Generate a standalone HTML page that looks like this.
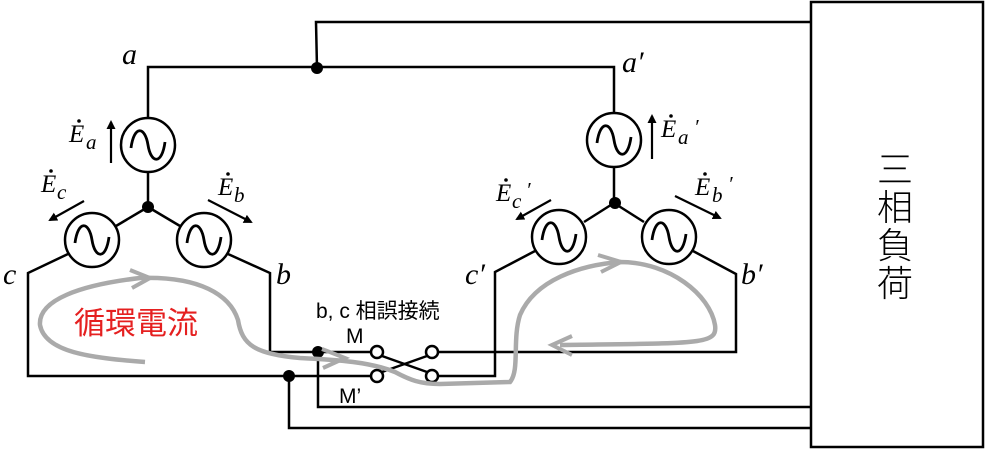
<!DOCTYPE html>
<html><head><meta charset="utf-8"><style>body{margin:0;background:#fff}svg{display:block}</style></head><body>
<svg width="986" height="451" viewBox="0 0 986 451" xmlns="http://www.w3.org/2000/svg" font-family="'Liberation Serif','DejaVu Serif',serif">
<defs>
<marker id="ah" markerWidth="9" markerHeight="9" refX="7" refY="4.5" orient="auto" markerUnits="userSpaceOnUse"><path d="M0,0 L9,4.5 L0,9 z" fill="#000"/></marker>
</defs>
<g fill="none" stroke="#000" stroke-width="2.5">
<rect x="811" y="2" width="172" height="445"/>
<polyline points="148,118 148,67 614,67 614,113"/>
<polyline points="317,68 316,22 811,22"/>
<circle cx="148" cy="145" r="27"/>
<line x1="148" y1="172" x2="148" y2="207"/>
<line x1="148" y1="207" x2="116" y2="226"/>
<line x1="148" y1="207" x2="180" y2="226"/>
<circle cx="92" cy="240" r="27"/>
<circle cx="204" cy="240" r="27"/>
<polyline points="68,254 28,273 28,376 372,376"/>
<polyline points="228,254 270,273 270,352 372,352"/>
<circle cx="614" cy="140" r="27"/>
<line x1="614" y1="167" x2="614" y2="203"/>
<line x1="614" y1="203" x2="584" y2="222"/>
<line x1="614" y1="203" x2="644" y2="222"/>
<circle cx="559" cy="237" r="27"/>
<circle cx="669" cy="237" r="27"/>
<polyline points="535,251 495,272 495,376 438,376"/>
<polyline points="693,251 736,274 736,352 438,352"/>
<polyline points="318,352 318,407 811,407"/>
<polyline points="289,376 289,428 811,428"/>
<line x1="382" y1="356" x2="427" y2="372"/>
<line x1="382" y1="372" x2="427" y2="356"/>
</g>
<g fill="#fff" stroke="#000" stroke-width="2.5">
<circle cx="377" cy="352" r="6"/><circle cx="432" cy="352" r="6"/>
<circle cx="377" cy="376" r="6"/><circle cx="432" cy="376" r="6"/>
</g>
<g fill="#000">
<circle cx="317" cy="68" r="6"/><circle cx="148" cy="207" r="6"/><circle cx="615" cy="203" r="6"/>
<circle cx="318" cy="352" r="6"/><circle cx="289" cy="376" r="6"/>
</g>
<g fill="none" stroke="#000" stroke-width="2.8">
<path d="M131,148 C134,125 145,126 148,145 C151,164 162,165 165,142"/>
<path d="M75,243 C78,220 89,221 92,240 C95,259 106,260 109,237"/>
<path d="M187,243 C190,220 201,221 204,240 C207,259 218,260 221,237"/>
<path d="M597,143 C600,120 611,121 614,140 C617,159 628,160 631,137"/>
<path d="M542,240 C545,217 556,218 559,237 C562,256 573,257 576,234"/>
<path d="M652,240 C655,217 666,218 669,237 C672,256 683,257 686,234"/>
</g>
<g stroke="#000" stroke-width="2.2" marker-end="url(#ah)">
<line x1="111" y1="163" x2="111" y2="122"/>
<line x1="84" y1="201" x2="50" y2="220"/>
<line x1="208" y1="200" x2="251" y2="222"/>
<line x1="652" y1="159" x2="652" y2="116"/>
<line x1="551" y1="200" x2="517" y2="219"/>
<line x1="675" y1="196" x2="720" y2="218"/>
</g>
<g fill="none" stroke="#aaa" stroke-width="4.5">
<path d="M145,362 C90,358 45,352 40,325 C38,300 80,285 140,278 C200,276 230,295 238,320 C242,345 255,354 300,358 C340,360 370,362 395,372 C410,380 420,384 440,384 L510,382 C520,370 512,340 520,315 C535,280 580,265 620,262 C670,262 710,295 715,325 C718,345 700,343 560,345"/>
<path d="M130,270 L150,278 L132,288" stroke-width="4"/>
<path d="M322,349 L345,358 L323,368" stroke-width="4"/>
<path d="M598,255 L621,262 L601,272" stroke-width="4"/>
<path d="M572,336 L552,345 L572,355" stroke-width="4"/>
</g>
<g font-style="italic" font-size="30" fill="#000">
<text x="122" y="64">a</text>
<text x="622" y="72">a′</text>
<text x="3" y="284">c</text>
<text x="276" y="284">b</text>
<text x="465" y="284">c′</text>
<text x="741" y="284">b′</text>
</g>
<g font-style="italic" font-size="25" fill="#000">
<text x="69" y="142">E</text><text x="86" y="149" font-size="21">a</text><circle cx="79" cy="121" r="1.8"/>
<text x="41" y="192">E</text><text x="57" y="199" font-size="21">c</text><circle cx="51" cy="171" r="1.8"/>
<text x="218" y="195">E</text><text x="234" y="202" font-size="21">b</text><circle cx="228" cy="174" r="1.8"/>
<text x="661" y="137">E</text><text x="678" y="144" font-size="21">a</text><text x="694" y="134" font-size="21">′</text><circle cx="671" cy="116" r="1.8"/>
<text x="496" y="201">E</text><text x="512" y="208" font-size="21">c</text><text x="526" y="197" font-size="21">′</text><circle cx="506" cy="180" r="1.8"/>
<text x="695" y="195">E</text><text x="712" y="202" font-size="21">b</text><text x="728" y="191" font-size="21">′</text><circle cx="705" cy="174" r="1.8"/>
</g>
<g font-family="'Liberation Sans','Noto Sans CJK JP',sans-serif" fill="#000">
<text x="316" y="318" font-size="21">b, c 相誤接続</text>
<text x="346" y="343" font-size="21">M</text>
<text x="339" y="403" font-size="21">M’</text>
<text x="74" y="334" font-size="31" fill="#e52020">循環電流</text>
<g font-size="36" font-weight="300"><text x="877" y="182">三</text><text x="877" y="220">相</text><text x="877" y="258">負</text><text x="877" y="296">荷</text></g>
</g>
</svg>
</body></html>
